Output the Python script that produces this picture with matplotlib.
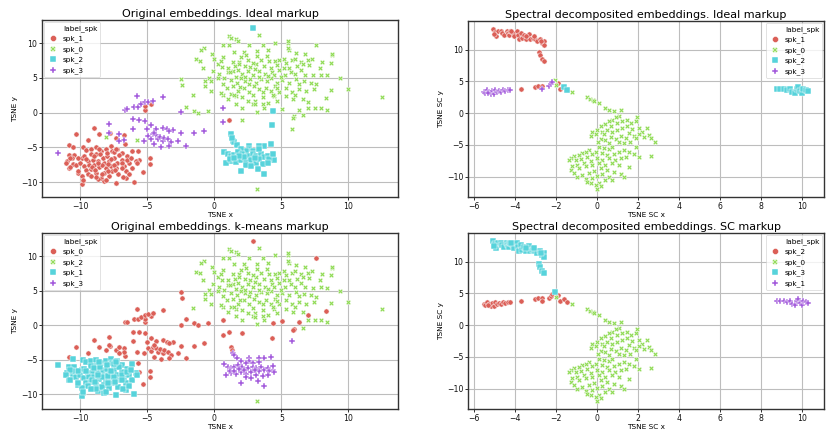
import matplotlib
matplotlib.use("Agg")
import matplotlib.pyplot as plt
from matplotlib.lines import Line2D

# ---------------------------------------------------------------------------
# Original embeddings (TSNE x, TSNE y), grouped by (ideal label, k-means label)
# ---------------------------------------------------------------------------
orig_s0_km2 = [
    (1.12, 11.0), (1.24, 10.8), (1.62, 10.6), (1.74, 10.3), (3.36, 11.2),
    (0.62, 9.76), (1.07, 9.76), (2.6, 9.76), (3.6, 9.76), (4.5, 10.1), (5.5, 10.1), (5.5, 10.4),
    (1.5, 8.8), (2.2, 8.8), (3.2, 8.9), (4.0, 9.0), (5.6, 9.0), (6.1, 8.65), (6.8, 8.4),
    (8.8, 8.3), (-0.8, 9.35), (-0.2, 8.4), (5.5, 9.35),
    (0.67, 8.0), (1.37, 7.35), (1.87, 7.35), (2.36, 8.3), (2.49, 7.55), (3.2, 8.2), (3.5, 7.55),
    (3.9, 8.2), (4.5, 7.45), (4.8, 7.55), (5.2, 7.8), (5.35, 7.2), (5.8, 7.55), (6.05, 7.8),
    (6.5, 7.35), (7.0, 7.55), (7.3, 7.8), (8.0, 7.35), (8.7, 7.2),
    (0.55, 6.6), (1.57, 6.7), (1.87, 6.97), (2.3, 6.7), (2.7, 6.6), (3.1, 6.97), (3.7, 6.7),
    (4.2, 6.5), (4.7, 6.9), (5.6, 6.5), (6.2, 6.7), (6.6, 7.05), (7.1, 6.9), (7.9, 6.5),
    (-0.1, 6.0), (0.37, 5.6), (1.0, 5.8), (1.37, 6.0), (1.74, 6.1), (2.1, 5.6), (2.5, 6.0),
    (2.86, 5.5), (3.36, 6.0), (3.8, 5.6), (4.3, 5.9), (4.48, 5.5), (4.85, 6.1), (5.3, 5.5),
    (5.7, 5.9), (6.0, 5.6), (6.5, 6.1), (6.8, 5.5), (7.4, 5.4), (7.96, 5.5), (8.4, 5.4),
    (-0.37, 5.05), (0.25, 4.95), (0.75, 5.05), (1.24, 4.7), (1.67, 4.3), (2.0, 4.95), (2.3, 4.6),
    (2.7, 4.8), (3.1, 4.3), (3.5, 4.8), (3.9, 4.6), (4.2, 4.95), (4.65, 4.3), (5.05, 4.7),
    (5.6, 4.3), (6.1, 4.8), (6.7, 4.5), (7.2, 4.3), (7.6, 4.1), (9.4, 4.95),
    (-0.25, 4.5), (0.62, 4.2), (0.92, 3.6), (1.37, 3.85), (1.74, 3.1), (2.24, 3.6), (2.6, 3.0),
    (2.98, 3.85), (3.36, 3.4), (3.86, 3.6), (4.2, 3.1), (4.5, 3.85), (4.85, 3.0), (5.35, 3.6),
    (5.8, 3.0), (6.3, 3.4), (6.84, 3.1), (7.46, 3.4), (8.7, 3.2), (9.95, 3.4),
    (-0.25, 3.1), (0.67, 2.6), (1.24, 2.7), (1.62, 2.4), (2.1, 2.26), (2.86, 2.55), (3.06, 1.7),
    (3.6, 2.2), (4.0, 1.45), (4.48, 2.4), (4.7, 1.7), (5.35, 2.4), (5.85, 1.9), (6.6, 1.9),
    (7.96, 0.7), (1.62, 1.3), (2.86, 1.3), (3.6, 1.3), (2.1, 0.7), (6.96, 0.7),
    (-1.62, 2.49), (-1.4, 7.7), (-1.05, 7.5), (-0.87, 6.5), (0.0, 7.7), (0.25, 7.0), (0.5, 7.4),
    (1.0, 6.5), (1.2, 5.8), (-0.7, 3.8), (-0.7, 4.55), (1.0, 1.9), (0.5, 2.9), (1.5, 2.6),
    (2.5, 1.7), (3.0, 1.2), (3.2, 0.1), (3.7, 0.7), (6.6, -0.4), (7.5, 0.7), (8.4, 0.4),
    (12.5, 2.3), (3.2, -11.0), (8.8, 8.4), (2.0, 8.0), (2.9, 7.2), (4.1, 7.4), (3.3, 5.1),
    (4.0, 5.3), (1.6, 5.2), (2.6, 4.2), (3.0, 6.3), (5.0, 5.1), (5.2, 6.5), (1.9, 3.7),
    (4.4, 2.6), (3.6, 3.0), (6.0, 2.6), (2.3, 5.1), (4.7, 3.5), (6.3, 4.2), (-1.0, 9.0),
]
orig_s0_km0 = [
    (7.62, 9.75), (8.33, 2.1), (6.97, 1.53), (5.05, 0.57), (6.29, 0.43), (5.97, -0.53),
    (5.85, -0.72), (2.05, -1.08), (-2.5, 4.85), (-2.42, 3.95), (-2.11, 0.82), (-1.49, 0.28),
    (-1.24, 0.0), (-0.5, 0.24), (-8.05, -3.57), (-5.75, -3.95),
]
orig_s0_km3 = [(5.8, -2.35)]

orig_s1_km1 = [
    (-10.57, -4.9), (-9.83, -5.0), (-9.58, -5.33), (-9.2, -5.19), (-8.84, -5.0), (-8.47, -5.48),
    (-8.1, -5.19), (-7.72, -4.86), (-7.6, -5.48), (-7.23, -5.19), (-6.86, -5.81), (-6.49, -6.29),
    (-6.16, -5.57), (-10.82, -6.05), (-11.0, -7.0), (-10.45, -6.05), (-10.57, -7.38),
    (-10.87, -7.95), (-10.2, -8.67), (-10.32, -7.48), (-9.88, -6.52), (-10.0, -7.24),
    (-9.7, -7.71), (-9.46, -7.0), (-9.08, -6.76), (-9.33, -7.48), (-9.58, -8.33), (-9.21, -8.19),
    (-8.96, -7.48), (-8.71, -6.9), (-8.59, -7.86), (-8.84, -8.67), (-8.47, -9.38), (-8.22, -7.24),
    (-8.1, -7.95), (-8.22, -8.67), (-7.85, -7.0), (-7.72, -7.71), (-7.6, -8.43), (-7.85, -9.14),
    (-7.48, -6.52), (-7.23, -7.24), (-7.3, -7.95), (-7.16, -8.9), (-6.86, -6.76), (-6.73, -7.71),
    (-6.6, -8.43), (-6.36, -7.24), (-6.11, -7.95), (-5.87, -7.0), (-8.71, -9.62), (-9.83, -9.86),
    (-9.88, -10.33), (-8.22, -9.86), (-7.35, -10.1), (-6.0, -9.95), (-6.6, -9.4), (-8.34, -6.52),
    (-7.97, -6.29), (-8.84, -5.95), (-9.21, -5.95), (-7.1, -6.05), (-9.0, -6.2), (-8.5, -6.0),
    (-8.0, -5.8), (-7.5, -5.7), (-9.7, -6.3), (-10.2, -6.6), (-10.6, -6.6), (-9.1, -7.9),
    (-8.4, -7.5), (-7.9, -7.4), (-7.5, -7.5), (-6.9, -7.3), (-6.5, -6.8), (-9.4, -8.8),
    (-8.9, -8.2), (-8.4, -8.9), (-7.9, -8.4), (-7.4, -8.3), (-6.9, -8.0), (-6.8, -9.3),
    (-9.9, -9.1), (-10.8, -6.5), (-11.1, -7.2), (-10.8, -7.9), (-10.2, -8.4), (-9.8, -9.7),
    (-8.8, -9.3), (-8.1, -9.7), (-7.3, -10.1), (-5.8, -7.2), (-8.6, -5.3), (-7.3, -5.3),
    (-9.6, -6.7), (-8.7, -7.2), (-7.7, -6.7), (-6.2, -6.5), (-6.4, -8.8), (-9.2, -9.2),
]
orig_s1_km0 = [
    (-8.96, -2.2), (-10.35, -3.1), (-8.6, -3.1), (-7.75, -3.0), (-7.3, -3.6), (-6.73, -3.28),
    (-9.46, -4.0), (-10.87, -4.6), (-6.67, -4.45), (-5.7, -5.5), (-5.6, -6.85), (-4.8, -6.6),
    (-4.8, -7.45), (-5.3, -8.6), (-5.2, 0.4), (-5.2, 0.95), (-4.7, 1.3), (1.1, -1.0),
]

orig_s2_km3 = [
    (1.37, -4.07), (1.5, -4.3), (1.7, -4.7), (4.23, -4.55), (3.73, -4.8), (3.36, -4.8),
    (2.6, -4.8), (2.6, -5.26), (2.36, -5.5), (2.86, -5.5), (2.0, -5.26), (0.75, -5.65),
    (1.0, -6.0), (1.24, -6.2), (1.5, -6.1), (1.74, -5.74), (2.1, -6.0), (2.5, -6.2),
    (2.86, -6.0), (3.1, -6.2), (3.5, -6.0), (3.73, -6.46), (4.0, -6.2), (4.35, -6.46),
    (4.48, -6.8), (4.1, -6.7), (1.24, -6.94), (0.87, -7.2), (1.2, -6.7), (1.6, -7.1),
    (2.0, -6.8), (2.36, -7.1), (2.74, -6.8), (3.1, -7.2), (3.36, -6.7), (3.6, -7.4),
    (4.0, -7.2), (2.36, -7.56), (2.74, -7.66), (2.0, -8.37), (3.28, -8.13), (3.68, -8.85),
    (2.24, -6.46), (1.87, -6.3), (1.5, -6.6), (3.03, -6.56), (3.3, -5.3), (4.4, -5.9),
]
orig_s2_km0 = [(2.86, 12.2), (4.35, 0.24), (4.3, -1.8), (1.24, -3.1), (1.3, -3.6)]

orig_s3_km0 = [
    (-5.75, 2.35), (-3.86, 2.25), (-6.7, 0.45), (-6.5, 0.5), (-5.97, 0.86), (-5.67, 0.86),
    (-5.5, 1.2), (-5.17, 1.5), (-4.97, 1.6), (-4.55, 1.75), (-2.49, 0.05), (0.62, 0.72),
    (0.62, -1.4), (-6.05, -0.95), (-5.6, -1.05), (-5.2, -1.2), (-6.05, -2.35), (-5.05, -2.4),
    (-4.73, -1.8), (-4.35, -2.3), (-3.86, -2.15), (-3.53, -2.4), (-3.05, -2.5), (-2.5, -3.0),
    (-1.54, -3.0), (-0.75, -2.6), (-7.85, -1.67), (-7.85, -2.95), (-7.1, -3.1), (-6.73, -3.9),
    (-7.1, -4.1), (-4.98, -3.35), (-4.73, -3.73), (-4.6, -3.1), (-4.35, -3.25), (-4.23, -3.83),
    (-4.03, -3.44), (-3.86, -4.07), (-3.73, -3.6), (-3.48, -3.83), (-3.23, -4.3), (-4.48, -4.55),
    (-3.98, -4.93), (-3.41, -4.8), (-5.22, -4.07), (-2.69, -4.07), (-2.1, -4.8), (-4.5, -2.95),
    (-3.36, -2.63),
]
orig_s3_km1 = [(-11.65, -5.85)]

# (points, ideal label, k-means label)
orig_groups = [
    (orig_s1_km0, "spk_1", "spk_0"), (orig_s0_km2, "spk_0", "spk_2"),
    (orig_s1_km1, "spk_1", "spk_1"), (orig_s0_km0, "spk_0", "spk_0"),
    (orig_s0_km3, "spk_0", "spk_3"), (orig_s2_km3, "spk_2", "spk_3"),
    (orig_s2_km0, "spk_2", "spk_0"), (orig_s3_km0, "spk_3", "spk_0"),
    (orig_s3_km1, "spk_3", "spk_1"),
]

# ---------------------------------------------------------------------------
# Spectral decomposed embeddings (TSNE SC x, TSNE SC y), grouped by (ideal, SC label)
# ---------------------------------------------------------------------------
sc_s1_sc3 = [
    (-5.1, 13.25), (-5.0, 12.7), (-4.95, 12.2), (-4.85, 12.95), (-4.72, 13.0), (-4.65, 12.6),
    (-4.55, 12.25), (-4.43, 13.0), (-4.38, 12.6), (-4.32, 12.25), (-4.24, 12.9), (-4.12, 12.55),
    (-4.07, 12.1), (-3.94, 12.9), (-3.88, 12.35), (-3.83, 11.7), (-3.72, 12.6), (-3.67, 11.9),
    (-3.56, 12.25), (-3.46, 11.7), (-3.34, 12.5), (-3.26, 11.6), (-3.13, 11.9), (-3.02, 11.6),
    (-2.94, 11.3), (-2.81, 11.6), (-2.69, 11.05), (-2.62, 11.3), (-2.58, 10.7), (-2.86, 9.6),
    (-2.81, 9.2), (-2.69, 8.6), (-2.61, 8.15), (-5.05, 12.45), (-4.2, 12.95), (-3.5, 12.2),
    (-3.1, 12.2), (-2.75, 11.35),
]
sc_s1_sc2 = [(-3.73, 3.8), (-3.05, 4.05), (-2.88, 4.2), (-2.7, 4.35), (-1.9, 4.8), (-1.82, 3.85)]
sc_s3_sc2 = [
    (-5.52, 3.4), (-5.48, 3.1), (-5.4, 3.6), (-5.3, 3.3), (-5.2, 2.95), (-5.15, 3.45),
    (-5.06, 3.0), (-5.0, 3.6), (-4.9, 3.3), (-4.8, 3.55), (-4.7, 3.35), (-4.6, 3.6),
    (-4.5, 3.45), (-4.38, 3.7), (-4.25, 3.65), (-5.35, 3.1),
    (-2.35, 4.2), (-2.27, 4.6), (-2.2, 4.9), (-2.7, 3.85),
]
sc_s2_sc2 = [(-1.62, 4.05), (-1.5, 3.65)]
sc_s2_sc1 = [
    (8.77, 3.84), (8.93, 3.84), (9.1, 3.75), (9.25, 3.68), (9.42, 3.84), (9.5, 3.4),
    (9.66, 3.15), (9.74, 3.84), (9.82, 4.05), (9.9, 3.5), (9.98, 3.15), (10.06, 3.84),
    (10.2, 3.68), (10.28, 3.5),
]
sc_s0_sc0 = [
    (-2.0, 4.47), (-1.23, 3.26), (-0.5, 2.47), (-0.37, 2.2), (-0.2, 2.1), (-0.16, 1.95),
    (0.08, 1.58), (0.4, 0.79), (0.57, 0.53), (0.81, 0.26), (1.14, 0.42),
    (1.05, -0.42), (0.9, -0.63), (0.73, -1.05), (0.57, -1.3), (0.4, -1.7), (0.65, -2.0),
    (0.97, -1.58), (1.22, -1.3), (1.46, -1.05), (1.67, -1.58), (1.95, -0.63), (1.9, -1.3),
    (0.16, -2.1), (0.0, -2.6), (-0.28, -2.9), (-0.32, -3.6), (-0.08, -3.26), (0.24, -2.9),
    (0.49, -2.6), (0.73, -3.05), (0.97, -2.6), (1.22, -2.37), (1.46, -2.1), (1.7, -2.5),
    (2.03, -2.37), (2.2, -2.9), (2.43, -2.37), (2.52, -3.4), (2.6, -3.95), (2.8, -4.47),
    (2.27, -3.7), (2.03, -3.26), (1.79, -3.6), (1.54, -3.16), (1.38, -3.95), (1.14, -3.6),
    (0.9, -4.1), (0.65, -3.7), (0.4, -4.2), (0.16, -4.1), (0.05, -4.47), (0.32, -3.26),
    (1.3, -4.7), (1.62, -4.47), (1.87, -3.95), (1.05, -4.47), (0.57, -4.7),
    (0.08, -5.26), (0.32, -5.5), (0.57, -5.7), (0.73, -5.37), (-0.4, -5.8), (-0.57, -6.05),
    (-0.73, -6.3), (-0.89, -6.58), (-1.14, -6.74), (-1.3, -7.1), (-1.38, -7.37), (-1.05, -7.37),
    (-0.81, -7.26), (-0.49, -6.84), (-0.24, -6.42), (-0.08, -6.05), (0.24, -6.3), (0.49, -6.58),
    (0.81, -6.42), (1.05, -6.05), (1.3, -5.8), (1.54, -6.05), (1.79, -6.42), (2.03, -6.84),
    (1.38, -6.95), (1.14, -7.1), (0.89, -7.37), (0.57, -7.1), (0.24, -7.37), (0.0, -7.1),
    (-0.32, -7.47), (-0.65, -7.8), (-0.97, -8.16), (-1.22, -8.4), (-1.3, -8.95), (-1.14, -9.37),
    (-0.89, -8.68), (-0.57, -8.4), (-0.24, -8.16), (0.08, -7.9), (0.4, -8.16), (0.73, -7.8),
    (1.05, -8.16), (1.54, -8.5), (1.14, -9.58), (1.3, -10.0), (0.81, -9.2), (0.49, -8.95),
    (0.16, -8.68), (-0.16, -9.05), (-0.4, -9.47), (-0.73, -9.74), (-0.97, -10.0), (-0.57, -10.4),
    (-0.24, -10.26), (0.0, -9.9), (0.24, -9.58), (0.57, -10.0), (0.73, -10.5), (0.4, -10.6),
    (0.08, -10.95), (-0.08, -11.3), (0.16, -11.5), (0.0, -11.95), (-0.32, -11.05),
    (-0.49, -10.8), (2.6, -6.8), (1.9, -5.4),
]
sc_s0_sc3 = [(-2.05, 5.26)]

# (points, ideal label, SC label)
sc_groups = [
    (sc_s1_sc2, "spk_1", "spk_2"), (sc_s0_sc0, "spk_0", "spk_0"),
    (sc_s1_sc3, "spk_1", "spk_3"), (sc_s3_sc2, "spk_3", "spk_2"),
    (sc_s2_sc2, "spk_2", "spk_2"), (sc_s2_sc1, "spk_2", "spk_1"),
    (sc_s0_sc3, "spk_0", "spk_3"),
]

# legend / colour order of each panel
order_ideal = ["spk_1", "spk_0", "spk_2", "spk_3"]
order_kmeans = ["spk_0", "spk_2", "spk_1", "spk_3"]
order_sc = ["spk_2", "spk_0", "spk_3", "spk_1"]

PALETTE = ["#db5f57", "#91db57", "#57d3db", "#a157db"]
MARKERS = ["o", "X", "s", "P"]

FS_SMALL = 5.3
FS_TITLE = 8.0


def draw_panel(ax, groups, which, order, title, xlabel, ylabel, legend_loc):
    pts = {lab: ([], []) for lab in order}
    for points, ideal, other in groups:
        lab = ideal if which == 0 else other
        for x, y in points:
            pts[lab][0].append(x)
            pts[lab][1].append(y)
    for i, lab in enumerate(order):
        ax.scatter(pts[lab][0], pts[lab][1], s=14, c=PALETTE[i], marker=MARKERS[i],
                   edgecolors="white", linewidths=0.35, zorder=3)
    ax.grid(True, color="#bdbdbd", linewidth=0.8, zorder=0)
    ax.set_axisbelow(True)
    for sp in ax.spines.values():
        sp.set_color("#333333")
        sp.set_linewidth(1.0)
    ax.tick_params(labelsize=FS_SMALL + 0.3, length=2, width=0.6, pad=1.5, colors="#111111")
    ax.set_title(title, fontsize=FS_TITLE, pad=2.5)
    ax.set_xlabel(xlabel, fontsize=FS_SMALL, labelpad=0.5)
    ax.set_ylabel(ylabel, fontsize=FS_SMALL, labelpad=2)

    handles = [Line2D([], [], linestyle="none", marker="", label="label_spk")]
    for i, lab in enumerate(order):
        handles.append(Line2D([], [], linestyle="none", marker=MARKERS[i], markersize=4.3,
                              markerfacecolor=PALETTE[i], markeredgecolor="white",
                              markeredgewidth=0.3, label=lab))
    leg = ax.legend(handles=handles, loc=legend_loc, fontsize=FS_SMALL, borderaxespad=0.25,
                    handlelength=1.6, handletextpad=0.6, labelspacing=0.5,
                    borderpad=0.4, framealpha=0.8)
    leg.get_frame().set_linewidth(0.5)


fig = plt.figure(figsize=(8.3, 4.36), dpi=100)
W, H = 830.0, 436.0


def add_axes(left, top, right, bottom):
    return fig.add_axes([left / W, 1 - bottom / H, (right - left) / W, (bottom - top) / H])


ax_tl = add_axes(42, 20, 398, 197)
ax_tr = add_axes(468, 21, 824, 197)
ax_bl = add_axes(42, 233, 398, 409)
ax_br = add_axes(468, 233, 824, 409)

draw_panel(ax_tl, orig_groups, 0, order_ideal, "Original embeddings. Ideal markup",
           "TSNE x", "TSNE y", "upper left")
draw_panel(ax_bl, orig_groups, 1, order_kmeans, "Original embeddings. k-means markup",
           "TSNE x", "TSNE y", "upper left")
draw_panel(ax_tr, sc_groups, 0, order_ideal, "Spectral decomposited embeddings. Ideal markup",
           "TSNE SC x", "TSNE SC y", "upper right")
draw_panel(ax_br, sc_groups, 1, order_sc, "Spectral decomposited embeddings. SC markup",
           "TSNE SC x", "TSNE SC y", "upper right")

fig.savefig("out.png", dpi=100)
